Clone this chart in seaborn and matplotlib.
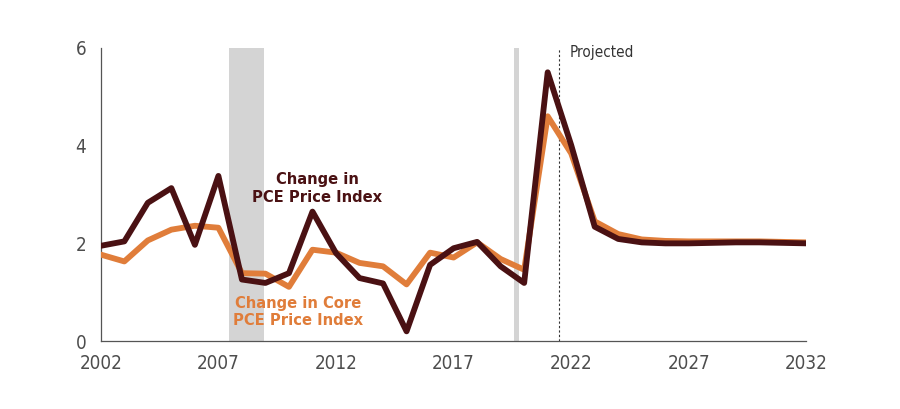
import numpy as np
import pandas as pd
import seaborn as sns
import matplotlib.pyplot as plt

years = list(range(2002, 2033))
pce = [1.95, 2.04, 2.83, 3.13, 1.97, 3.38, 1.26, 1.19, 1.39, 2.65,
       1.80, 1.29, 1.18, 0.20, 1.56, 1.90, 2.03, 1.53, 1.19, 5.50,
       4.01, 2.34, 2.09, 2.02, 2.00, 2.00, 2.01, 2.02, 2.02, 2.01, 2.00]
core_pce = [1.77, 1.63, 2.06, 2.28, 2.36, 2.32, 1.39, 1.38, 1.11, 1.87,
            1.81, 1.60, 1.53, 1.16, 1.81, 1.71, 2.02, 1.68, 1.46, 4.60,
            3.84, 2.45, 2.19, 2.08, 2.05, 2.04, 2.04, 2.04, 2.04, 2.03, 2.02]
recessions = [(2007.45, 2008.95), (2019.58, 2019.78)]
projection_start = 2021.5
x_ticks = [2002, 2007, 2012, 2017, 2022, 2027, 2032]
y_ticks = [0, 2, 4, 6]

dark = "#4a1113"
orange = "#e07d3a"
grey_text = "#4d4d4d"

df = pd.DataFrame({"year": years, "pce": pce, "core": core_pce})

sns.set_theme(style="white")
plt.rcParams['font.family'] = ['DejaVu Sans']
plt.rcParams['font.stretch'] = 'condensed'

fig = plt.figure(figsize=(9, 4.09), dpi=100)
ax = fig.add_axes([0.112, 0.166, 0.784, 0.717])

for start, end in recessions:
    ax.axvspan(start, end, color="#d4d4d4", lw=0, zorder=0)

ax.axvline(projection_start, color="#333333", lw=0.8, ls=(0, (2, 2)), zorder=1)
ax.text(projection_start + 0.45, 5.9, "Projected", color="#333333",
        fontsize=11, va="center", ha="left", stretch="condensed")

sns.lineplot(data=df, x="year", y="core", ax=ax, color=orange, lw=4.2, zorder=3)
sns.lineplot(data=df, x="year", y="pce", ax=ax, color=dark, lw=4.2, zorder=4)

ax.text(2011.2, 3.12, "Change in\nPCE Price Index", color=dark, stretch="condensed",
        fontsize=11.8, fontweight="bold", ha="center", va="center", linespacing=1.2)
ax.text(2010.4, 0.6, "Change in Core\nPCE Price Index", color=orange, stretch="condensed",
        fontsize=11.8, fontweight="bold", ha="center", va="center", linespacing=1.2)

ax.set_xlim(2002, 2032)
ax.set_ylim(0, 6)
ax.set_xticks(x_ticks)
ax.set_yticks(y_ticks)
ax.set_xlabel("")
ax.set_ylabel("")
ax.tick_params(direction="in", length=5, width=0.8, color="#555555",
               labelsize=13.5, labelcolor=grey_text)
ax.tick_params(axis="x", pad=9)
ax.tick_params(axis="y", pad=10.5)
for side in ["top", "right"]:
    ax.spines[side].set_visible(False)
for side in ["left", "bottom"]:
    ax.spines[side].set_color("#555555")
    ax.spines[side].set_linewidth(0.9)

fig.savefig("out.png", dpi=100)
